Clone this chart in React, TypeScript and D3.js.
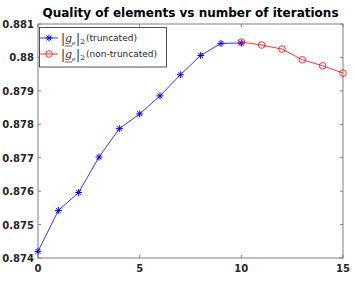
import React from 'react';
import * as d3 from 'd3';

const truncIter = [0, 1, 2, 3, 4, 5, 6, 7, 8, 9, 10];
const truncQuality = [0.8742, 0.87542, 0.87596, 0.87702, 0.87787, 0.87831, 0.87885, 0.87948, 0.88006, 0.88042, 0.88043];
const fullIter = [10, 11, 12, 13, 14, 15];
const fullQuality = [0.88046, 0.88037, 0.88025, 0.87993, 0.87975, 0.87953];
const xTicks = [0, 5, 10, 15];
const yTicks = [0.874, 0.875, 0.876, 0.877, 0.878, 0.879, 0.88, 0.881];
const yTickLabels = ['0.874', '0.875', '0.876', '0.877', '0.878', '0.879', '0.88', '0.881'];

const W = 357;
const H = 283;
const margin = { top: 24, right: 14, bottom: 25, left: 38 };

const App: React.FC = () => {
    const x = d3.scaleLinear().domain([0, 15]).range([margin.left, W - margin.right]);
    const y = d3.scaleLinear().domain([0.874, 0.881]).range([H - margin.bottom, margin.top]);
    const lineBlue = d3.line<number>().x((_, i) => x(truncIter[i])).y(d => y(d));
    const lineRed = d3.line<number>().x((_, i) => x(fullIter[i])).y(d => y(d));
    const axisColor = '#7f7f7f';
    const font = 'DejaVu Sans, sans-serif';
    const [x0, x1] = x.range();
    const [y0, y1] = y.range();

    const star = (cx: number, cy: number, key: string | number, color: string) => {
        const r = 3.5;
        return (
            <g key={key} stroke={color} strokeWidth={1}>
                <line x1={cx - r} y1={cy} x2={cx + r} y2={cy} />
                <line x1={cx} y1={cy - r} x2={cx} y2={cy + r} />
                <line x1={cx - r * 0.7} y1={cy - r * 0.7} x2={cx + r * 0.7} y2={cy + r * 0.7} />
                <line x1={cx - r * 0.7} y1={cy + r * 0.7} x2={cx + r * 0.7} y2={cy - r * 0.7} />
            </g>
        );
    };

    // |g_e|_2 followed by the series name
    const legendLabel = (lx: number, ly: number, suffix: string) => (
        <g fill="#262626">
            <text x={lx} y={ly + 1} fontFamily="DejaVu Serif, serif" fontSize={12}>|</text>
            <text x={lx + 4} y={ly} fontFamily="DejaVu Serif, serif" fontSize={11} fontStyle="italic">g</text>
            <line x1={lx + 4} x2={lx + 11} y1={ly + 4} y2={ly + 4} stroke="#262626" strokeWidth={0.7} />
            <text x={lx + 11} y={ly + 3} fontFamily="DejaVu Serif, serif" fontSize={6} fontStyle="italic">e</text>
            <text x={lx + 15} y={ly + 1} fontFamily="DejaVu Serif, serif" fontSize={12}>|</text>
            <text x={lx + 19} y={ly + 2} fontFamily="DejaVu Serif, serif" fontSize={8}>2</text>
            <text x={lx + 25} y={ly - 1} fontFamily={font} fontSize={9}>{suffix}</text>
        </g>
    );

    return (
        <svg width={W} height={H} style={{ position: 'absolute', left: 0, top: 0 }}>
            <rect x={0} y={0} width={W} height={H} fill="#fff" />
            <text x={(x0 + x1) / 2} y={17} textAnchor="middle" fontFamily={font} fontWeight="bold" fontSize={12} fill="#000">
                Quality of elements vs number of iterations
            </text>
            <rect x={x0} y={y1} width={x1 - x0} height={y0 - y1} fill="none" stroke={axisColor} strokeWidth={1} />
            {xTicks.map(t => (
                <g key={'x' + t}>
                    <line x1={x(t)} x2={x(t)} y1={y0} y2={y0 - 3} stroke={axisColor} />
                    <line x1={x(t)} x2={x(t)} y1={y1} y2={y1 + 3} stroke={axisColor} />
                    <text x={x(t)} y={y0 + 14} textAnchor="middle" fontFamily={font} fontWeight="bold" fontSize={10} fill="#262626">{t}</text>
                </g>
            ))}
            {yTicks.map((t, i) => (
                <g key={'y' + t}>
                    <line x1={x0} x2={x0 + 3} y1={y(t)} y2={y(t)} stroke={axisColor} />
                    <line x1={x1} x2={x1 - 3} y1={y(t)} y2={y(t)} stroke={axisColor} />
                    <text x={x0 - 4} y={y(t) + 4} textAnchor="end" fontFamily={font} fontWeight="bold" fontSize={10} fill="#262626">{yTickLabels[i]}</text>
                </g>
            ))}
            <path d={lineBlue(truncQuality) || ''} fill="none" stroke="#0000ff" strokeWidth={0.8} />
            {truncQuality.map((v, i) => star(x(truncIter[i]), y(v), i, '#0000ff'))}
            <path d={lineRed(fullQuality) || ''} fill="none" stroke="#ff0000" strokeWidth={0.8} />
            {fullQuality.map((v, i) => (
                <circle key={'c' + i} cx={x(fullIter[i])} cy={y(v)} r={3.3} fill="none" stroke="#ff0000" strokeWidth={0.8} />
            ))}
            <g>
                <rect x={39.5} y={27.5} width={127} height={39.5} fill="#fff" stroke="#262626" strokeWidth={0.8} />
                <line x1={40} x2={58} y1={38} y2={38} stroke="#0000ff" strokeWidth={0.8} />
                {star(49, 38, 'ls', '#0000ff')}
                {legendLabel(61, 42, '(truncated)')}
                <line x1={40} x2={58} y1={54} y2={54} stroke="#ff0000" strokeWidth={0.8} />
                <circle cx={49} cy={54} r={3.3} fill="none" stroke="#ff0000" strokeWidth={0.8} />
                {legendLabel(61, 58, '(non-truncated)')}
            </g>
        </svg>
    );
};

export default App;
